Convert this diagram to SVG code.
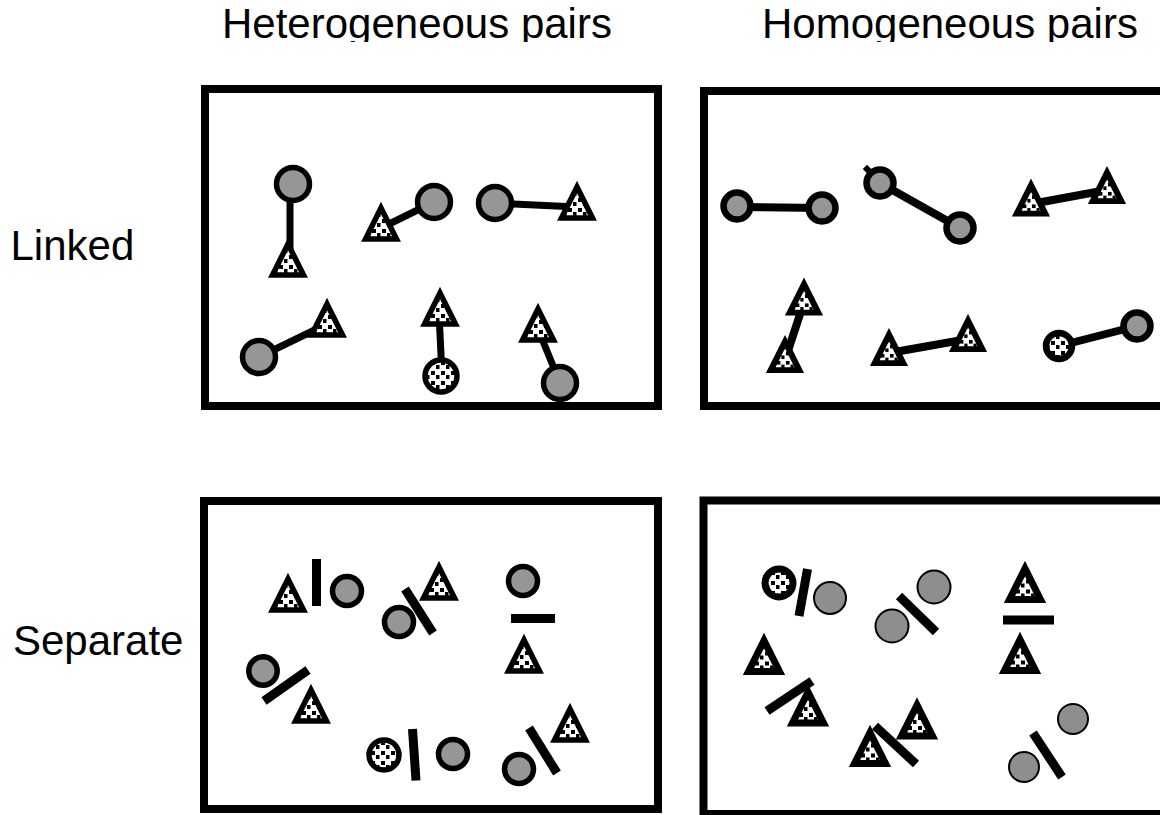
<svg xmlns="http://www.w3.org/2000/svg" xmlns:xlink="http://www.w3.org/1999/xlink" width="1160" height="815" viewBox="0 0 1160 815">
<style>
text{font-family:"Liberation Sans",Arial,sans-serif;font-size:42px;fill:#000}
.frame{fill:none;stroke:#000;stroke-width:8}
.gc{fill:#969696;stroke:#000;stroke-width:5.5}
.gc2{fill:#969696;stroke:#000;stroke-width:6.5}
.gc4{fill:#8e8e8e;stroke:#000;stroke-width:2}
.sc{fill:url(#spk);stroke:#000;stroke-width:5.5}
.tri{fill:url(#spk);stroke:#000;stroke-width:5.5;stroke-linejoin:miter}
.tri2{fill:url(#spk);stroke:#000;stroke-width:6.5;stroke-linejoin:miter}
.tri4{fill:url(#spk);stroke:#000;stroke-width:7;stroke-linejoin:miter}
.link{stroke:#000;stroke-width:7;fill:none}
.link2{stroke:#000;stroke-width:8;fill:none}
.bar{stroke:#000;stroke-width:9;fill:none;stroke-linecap:butt}
</style>
<defs>
<pattern id="spk" width="10" height="10" patternUnits="userSpaceOnUse">
<rect width="10" height="10" fill="#fff"/>
<rect x="1" y="1" width="4" height="4" fill="#000"/>
<rect x="6" y="5" width="3.5" height="4" fill="#000"/>
</pattern>
<path id="tri" d="M0,-20 L15.5,11 L-15.5,11 Z"/>
<clipPath id="hclip"><rect x="0" y="0" width="1160" height="42"/></clipPath>
</defs>
<rect width="1160" height="815" fill="#fff"/>

<g id="labels">
<g clip-path="url(#hclip)">
<text x="222" y="38">Heterogeneous pairs</text>
<text x="762" y="38">Homogeneous pairs</text>
</g>
<text x="10.5" y="260">Linked</text>
<text x="13" y="655">Separate</text>
</g>

<g id="frames">
<rect class="frame" x="205" y="89" width="453" height="317"/>
<rect class="frame" x="704" y="91" width="480" height="315"/>
<rect class="frame" x="204" y="501" width="454" height="308"/>
<rect class="frame" x="703.5" y="500.5" width="480" height="313.5"/>
</g>

<g id="connectors">
<line class="link" x1="290" y1="190" x2="290" y2="262"/>
<line class="link" x1="383" y1="227" x2="434" y2="202"/>
<line class="link" x1="495" y1="203" x2="577" y2="207"/>
<line class="link" x1="259" y1="357" x2="327" y2="324"/>
<line class="link" x1="439" y1="313" x2="442" y2="376"/>
<line class="link" x1="538" y1="329" x2="560" y2="383"/>
<line class="link2" x1="737" y1="207" x2="822" y2="208"/>
<line class="link2" x1="880" y1="183" x2="960" y2="228"/>
<line class="link2" x1="1031" y1="204" x2="1107" y2="190"/>
<line class="link2" x1="804" y1="302" x2="785" y2="360"/>
<line class="link2" x1="889" y1="353" x2="968" y2="339"/>
<line class="link2" x1="1059" y1="346" x2="1137" y2="326"/>
</g>

<g id="linked-heterogeneous">
<g id="n-c1"><circle class="gc" cx="293" cy="184" r="16.5"/></g>
<g id="n-t1"><use href="#tri" class="tri" x="288" y="264"/></g>
<g id="n-t2"><use href="#tri" class="tri" x="381" y="228"/></g>
<g id="n-c2"><circle class="gc" cx="434" cy="202" r="16.5"/></g>
<g id="n-c3"><circle class="gc" cx="495" cy="203" r="16.5"/></g>
<g id="n-t3"><use href="#tri" class="tri" x="577" y="207"/></g>
<g id="n-c4"><circle class="gc" cx="259" cy="357" r="16.5"/></g>
<g id="n-t4"><use href="#tri" class="tri" x="327" y="324"/></g>
<g id="n-t5"><use href="#tri" class="tri" x="440" y="313"/></g>
<g id="n-c5"><circle class="sc" cx="441" cy="376" r="16"/></g>
<g id="n-t6"><use href="#tri" class="tri" x="538" y="329"/></g>
<g id="n-c6"><circle class="gc" cx="560" cy="383" r="16.5"/></g>
</g>

<g id="linked-homogeneous">
<g id="n-c7"><circle class="gc2" cx="737" cy="206" r="13.5"/></g>
<g id="n-c8"><circle class="gc2" cx="822" cy="208" r="13.5"/></g>
<g id="n-c9"><circle class="gc2" cx="880" cy="183" r="13.5"/><rect x="864" y="166" width="6" height="6" fill="#000" transform="rotate(45 867 169)"/></g>
<g id="n-c10"><circle class="gc2" cx="960" cy="228" r="13.5"/></g>
<g id="n-t7"><use href="#tri" class="tri2" transform="translate(1031,203.5) scale(0.92)"/></g>
<g id="n-t8"><use href="#tri" class="tri2" transform="translate(1107,191) scale(0.92)"/></g>
<g id="n-t9"><use href="#tri" class="tri2" transform="translate(804,302.5) scale(0.92)"/></g>
<g id="n-t10"><use href="#tri" class="tri2" transform="translate(785,360) scale(0.92)"/></g>
<g id="n-t11"><use href="#tri" class="tri2" transform="translate(889,353) scale(0.92)"/></g>
<g id="n-t12"><use href="#tri" class="tri2" transform="translate(968,339) scale(0.92)"/></g>
<g id="n-c11"><circle class="sc" cx="1059" cy="346" r="13" style="stroke-width:6.5"/></g>
<g id="n-c12"><circle class="gc2" cx="1137" cy="326" r="13.5"/></g>
</g>

<g id="separate-heterogeneous">
<g id="n-t13"><use href="#tri" class="tri" x="288" y="599"/></g>
<g id="n-c13"><circle class="gc" cx="347" cy="591" r="14.5"/></g>
<g id="n-c14"><circle class="gc" cx="399" cy="622" r="14.5"/></g>
<g id="n-t14"><use href="#tri" class="tri" x="439" y="587"/></g>
<g id="n-c15"><circle class="gc" cx="523" cy="581" r="14.5"/></g>
<g id="n-t15"><use href="#tri" class="tri" x="524" y="660"/></g>
<g id="n-c16"><circle class="gc" cx="263" cy="671" r="14.2"/></g>
<g id="n-t16"><use href="#tri" class="tri" x="311" y="710"/></g>
<g id="n-c17"><circle class="sc" cx="384" cy="755" r="15"/></g>
<g id="n-c18"><circle class="gc" cx="453" cy="754" r="14.5"/></g>
<g id="n-c19"><circle class="gc" cx="519" cy="769" r="14.5"/></g>
<g id="n-t17"><use href="#tri" class="tri" x="570" y="729"/></g>
<line class="bar" x1="316.5" y1="559" x2="316.5" y2="606"/>
<line class="bar" x1="405" y1="589" x2="433" y2="633"/>
<line class="bar" x1="511" y1="618.5" x2="555" y2="618.5"/>
<line class="bar" x1="264" y1="701" x2="308" y2="670"/>
<line class="bar" x1="412.5" y1="729" x2="416" y2="780.5"/>
<line class="bar" x1="529" y1="728" x2="557" y2="773"/>
</g>

<g id="separate-homogeneous">
<g id="n-c20"><circle class="sc" cx="779" cy="583" r="14" style="stroke-width:7"/></g>
<g id="n-c21"><circle class="gc4" cx="830" cy="598" r="16"/></g>
<g id="n-c22"><circle class="gc4" cx="892" cy="626" r="16.5"/></g>
<g id="n-c23"><circle class="gc4" cx="934" cy="587" r="16.5"/></g>
<g id="n-t18"><use href="#tri" class="tri4" x="1025" y="588.5"/></g>
<g id="n-t19"><use href="#tri" class="tri4" x="1020" y="659.5"/></g>
<g id="n-t20"><use href="#tri" class="tri4" x="764" y="660.5"/></g>
<g id="n-t21"><use href="#tri" class="tri4" x="808" y="712"/></g>
<g id="n-t22"><use href="#tri" class="tri4" x="870" y="752.5"/></g>
<g id="n-t23"><use href="#tri" class="tri4" x="917" y="725"/></g>
<g id="n-c24"><circle class="gc4" cx="1073" cy="719" r="15"/></g>
<g id="n-c25"><circle class="gc4" cx="1024" cy="767" r="15"/></g>
<line class="bar" x1="807.5" y1="569" x2="799" y2="616"/>
<line class="bar" x1="899" y1="596" x2="936" y2="632"/>
<line class="bar" x1="1003" y1="620" x2="1054" y2="620"/>
<line class="bar" x1="767" y1="711" x2="812" y2="681"/>
<line class="bar" x1="875" y1="726" x2="916" y2="764"/>
<line class="bar" x1="1033" y1="733" x2="1062" y2="777"/>
</g>
</svg>
